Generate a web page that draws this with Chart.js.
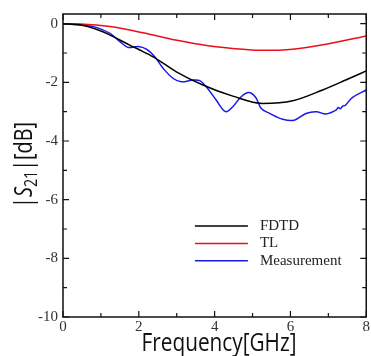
<!DOCTYPE html>
<html lang="en">
<head>
    <meta charset="UTF-8">
    <title>S21 vs Frequency</title>
    <script src="https://cdn.jsdelivr.net/npm/chart.js"></script>
    <style>
        html, body { margin: 0; padding: 0; background: #fff; }
        canvas { display: block; }
    </style>
</head>
<body>
    <canvas id="s21Chart" width="371" height="356"></canvas>

    <script>
        // Data (frequency in GHz, |S21| in dB)
        const fdtdFreq = [0, 0.45, 1.0, 1.24, 1.76, 2.0, 2.38, 2.99, 3.69, 4.48, 5.27, 6.06, 6.85, 7.46, 8.0];
        const fdtdVals = [0, -0.04, -0.25, -0.39, -0.73, -0.88, -1.13, -1.64, -2.09, -2.47, -2.72, -2.63, -2.26, -1.92, -1.61];

        const tlFreq = [0, 0.45, 1.24, 2.11, 2.97, 3.87, 4.74, 5.27, 6.06, 6.94, 8.0];
        const tlVals = [0, -0.01, -0.1, -0.31, -0.56, -0.76, -0.87, -0.91, -0.87, -0.70, -0.42];

        const measFreq = [0, 0.8, 1.24, 1.5, 1.72, 1.98, 2.2, 2.42, 2.64, 2.9, 3.12, 3.43, 3.61, 3.78, 4.04, 4.29,
                          4.48, 4.7, 4.9, 5.08, 5.23, 5.45, 5.8, 6.1, 6.41, 6.68, 6.94, 7.2, 7.26, 7.32, 7.38, 7.45, 7.64, 8.0];
        const measVals = [0, -0.1, -0.33, -0.61, -0.81, -0.78, -0.87, -1.13, -1.52, -1.86, -1.98, -1.92, -1.94, -2.15, -2.60, -3.0,
                          -2.83, -2.49, -2.35, -2.51, -2.89, -3.06, -3.26, -3.29, -3.06, -3.0, -3.08, -2.95, -2.86, -2.9, -2.81, -2.78, -2.51, -2.26];

        const xMajorTicks = [0, 2, 4, 6, 8];
        const xMinorTicks = [1, 3, 5, 7];
        const yMajorTicks = [0, -2, -4, -6, -8, -10];
        const yMinorTicks = [-1, -3, -5, -7, -9];

        const seriesLabels = ['FDTD', 'TL', 'Measurement'];
        const seriesColors = ['#000000', '#e8101a', '#1a1ae6'];

        const toPoints = (xs, ys) => xs.map((f, i) => ({ x: f, y: ys[i] }));

        const serifFont = '"Liberation Serif", "Times New Roman", serif';
        const sansFont = '"Open Sans", "Noto Sans", sans-serif';

        // Frame, inward ticks, legend and axis titles
        const framePlugin = {
            id: 'framePlugin',
            afterDraw(chart) {
                const { ctx, chartArea: a, scales: { x, y } } = chart;
                ctx.save();
                ctx.strokeStyle = '#111';
                ctx.lineWidth = 1.5;
                ctx.strokeRect(a.left, a.top, a.right - a.left, a.bottom - a.top);

                ctx.lineWidth = 1.2;
                ctx.beginPath();
                const xTick = (v, len) => {
                    const px = x.getPixelForValue(v);
                    ctx.moveTo(px, a.bottom); ctx.lineTo(px, a.bottom - len);
                    ctx.moveTo(px, a.top); ctx.lineTo(px, a.top + len);
                };
                const yTick = (v, len) => {
                    const py = y.getPixelForValue(v);
                    ctx.moveTo(a.left, py); ctx.lineTo(a.left + len, py);
                    ctx.moveTo(a.right, py); ctx.lineTo(a.right - len, py);
                };
                xMajorTicks.forEach(v => xTick(v, 6));
                xMinorTicks.forEach(v => xTick(v, 4));
                yMajorTicks.forEach(v => yTick(v, 6));
                yMinorTicks.forEach(v => yTick(v, 4));
                ctx.stroke();

                // legend
                const lx = a.left + 0.435 * (a.right - a.left);
                const ly = a.top + 0.70 * (a.bottom - a.top);
                ctx.font = '15px ' + serifFont;
                ctx.textBaseline = 'middle';
                ctx.fillStyle = '#222';
                seriesLabels.forEach((label, i) => {
                    const yy = ly + i * 17.3;
                    ctx.strokeStyle = seriesColors[i];
                    ctx.lineWidth = 1.5;
                    ctx.beginPath();
                    ctx.moveTo(lx, yy); ctx.lineTo(lx + 53, yy);
                    ctx.stroke();
                    ctx.fillText(label, lx + 65, yy);
                });

                // x title, squeezed to the narrow look of the original
                ctx.font = '25px ' + sansFont;
                ctx.textBaseline = 'alphabetic';
                ctx.textAlign = 'left';
                ctx.fillStyle = '#111';
                const xt = 'Frequency[GHz]';
                const xw = ctx.measureText(xt).width;
                const xs = 155 / xw;
                ctx.save();
                ctx.translate(219 - 155 / 2, 351);
                ctx.scale(xs, 1);
                ctx.fillText(xt, 0, 0);
                ctx.restore();

                // y title |S21|[dB] with subscript
                const parts = [
                    { t: '|', f: '25px ' + sansFont, dy: 0 },
                    { t: 'S', f: 'italic 25px ' + sansFont, dy: 0 },
                    { t: '21', f: '18px ' + sansFont, dy: 5 },
                    { t: '|[dB]', f: '25px ' + sansFont, dy: 0 }
                ];
                let total = 0;
                parts.forEach(p => { ctx.font = p.f; p.w = ctx.measureText(p.t).width; total += p.w; });
                const ys = 86 / total;
                ctx.save();
                ctx.translate(32, 165 + 43);
                ctx.rotate(-Math.PI / 2);
                ctx.scale(ys, 1);
                let cx = 0;
                parts.forEach(p => {
                    ctx.font = p.f;
                    ctx.fillText(p.t, cx, p.dy);
                    cx += p.w;
                });
                ctx.restore();

                ctx.restore();
            }
        };

        const ctx = document.getElementById('s21Chart').getContext('2d');
        new Chart(ctx, {
            type: 'line',
            data: {
                datasets: [
                    { label: seriesLabels[0], data: toPoints(fdtdFreq, fdtdVals), borderColor: seriesColors[0] },
                    { label: seriesLabels[1], data: toPoints(tlFreq, tlVals), borderColor: seriesColors[1] },
                    { label: seriesLabels[2], data: toPoints(measFreq, measVals), borderColor: seriesColors[2], cubicInterpolationMode: 'default', tension: 0.35 }
                ]
            },
            options: {
                responsive: false,
                animation: false,
                layout: { padding: { top: 14, right: 4, left: 0, bottom: 0 } },
                elements: {
                    point: { radius: 0 },
                    line: { borderWidth: 1.5, cubicInterpolationMode: 'monotone', fill: false }
                },
                plugins: {
                    legend: { display: false },
                    tooltip: { enabled: false }
                },
                scales: {
                    x: {
                        type: 'linear',
                        min: 0,
                        max: 8,
                        grid: { display: false, drawTicks: false },
                        border: { display: false },
                        afterBuildTicks: s => { s.ticks = xMajorTicks.map(v => ({ value: v })); },
                        afterFit: s => { s.height = 39; },
                        ticks: { padding: 1, color: '#333', font: { family: serifFont, size: 15 } }
                    },
                    y: {
                        type: 'linear',
                        min: -10,
                        max: 0.33,
                        grid: { display: false, drawTicks: false },
                        border: { display: false },
                        afterBuildTicks: s => { s.ticks = yMajorTicks.map(v => ({ value: v })); },
                        afterFit: s => { s.width = 63; },
                        ticks: { padding: 5, color: '#333', font: { family: serifFont, size: 15 } }
                    }
                }
            },
            plugins: [framePlugin]
        });
    </script>
</body>
</html>
